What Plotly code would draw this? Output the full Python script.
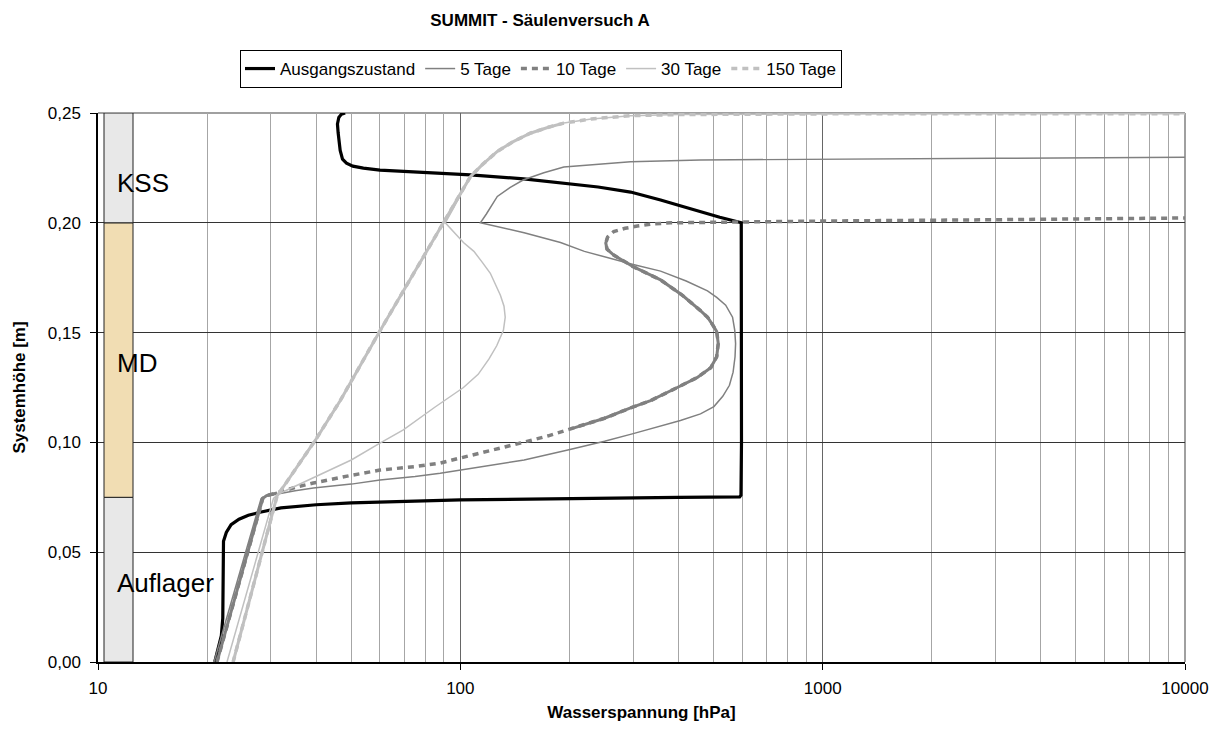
import plotly.graph_objects as go

# ---------------- data ----------------
series_names = ["Ausgangszustand", "5 Tage", "10 Tage", "30 Tage", "150 Tage"]

ausgang_x = [21.0, 21.5, 21.9, 22.1, 22.1, 22.2, 22.6, 23.3, 24.5, 26.0, 28.0, 32.0, 40, 50, 100,
             200, 400, 590, 595, 597, 597, 596, 520, 450, 400, 357, 320, 295, 240, 193, 149.6,
             106.6, 72.7, 60, 54, 50.5, 48.5, 47.3, 46.6, 46.2, 46.0, 45.8, 46.2, 47.0, 48.1]
ausgang_y = [0.0, 0.006, 0.012, 0.02, 0.05, 0.055, 0.059, 0.0625, 0.065, 0.0668, 0.0682, 0.0702,
             0.0716, 0.0725, 0.0738, 0.0745, 0.075, 0.0752, 0.076, 0.10, 0.15, 0.2, 0.2025,
             0.2057, 0.208, 0.2104, 0.2125, 0.214, 0.2163, 0.218, 0.220, 0.2218, 0.2232, 0.2240,
             0.2249, 0.2258, 0.2272, 0.229, 0.233, 0.237, 0.241, 0.245, 0.248, 0.2495, 0.25]

tage5_x = [20.9, 28.2, 29.0, 31.2, 35, 39.3, 50, 60, 75, 88, 100, 150, 198, 250, 300, 350, 405,
           460, 501, 530, 553, 566, 573, 575, 572, 564, 540, 510, 481, 420, 357, 300, 259, 220,
           189, 150, 113.6, 118, 126.5, 137, 149, 170, 193, 240, 295, 460, 1000, 3000, 10000]
tage5_y = [0.0, 0.0745, 0.0755, 0.0765, 0.078, 0.0792, 0.081, 0.0829, 0.0845, 0.086, 0.0874, 0.092,
           0.0965, 0.1005, 0.104, 0.107, 0.110, 0.113, 0.1163, 0.121, 0.126, 0.132, 0.139, 0.145,
           0.151, 0.157, 0.1625, 0.166, 0.169, 0.1735, 0.178, 0.181, 0.184, 0.187, 0.191, 0.1955,
           0.2, 0.204, 0.212, 0.216, 0.2195, 0.2228, 0.2254, 0.2268, 0.2278, 0.2286, 0.229,
           0.2294, 0.2298]

tage10_x = [21.3, 28.5, 29.2, 31.2, 35, 39.3, 50, 60, 75, 88, 100, 120, 146.5, 175, 205, 250, 295,
            335, 397, 450, 491, 510, 515, 510, 495, 481, 460, 410, 357, 300, 265, 254, 252, 255,
            265, 285, 308, 340, 380, 596, 1000, 3000, 10000]
tage10_y = [0.0, 0.0745, 0.0758, 0.077, 0.0795, 0.0815, 0.085, 0.0874, 0.089, 0.0906, 0.0929, 0.096,
            0.0997, 0.103, 0.1065, 0.111, 0.1157, 0.119, 0.125, 0.1295, 0.134, 0.139, 0.145,
            0.1505, 0.154, 0.157, 0.160, 0.167, 0.174, 0.180, 0.1853, 0.188, 0.1908, 0.1935,
            0.196, 0.1975, 0.1985, 0.1995, 0.2, 0.2005, 0.2008, 0.2014, 0.2022]

tage30_x = [22.7, 30.5, 31.5, 35, 39.3, 50, 60, 69.6, 85, 102, 112, 120, 126, 131.5, 133, 132, 129,
            125, 121, 115, 109, 102, 96, 90.9, 96, 106.6, 115, 126.5, 140, 156, 175, 193, 230, 295,
            400, 600, 1000, 10000]
tage30_y = [0.0, 0.0745, 0.0765, 0.08, 0.0838, 0.092, 0.0997, 0.1057, 0.116, 0.125, 0.131, 0.138,
            0.144, 0.151, 0.157, 0.162, 0.167, 0.172, 0.177, 0.182, 0.187, 0.191, 0.1955, 0.2,
            0.207, 0.221, 0.2265, 0.2325, 0.237, 0.2408, 0.2435, 0.2454, 0.2473, 0.2488, 0.2493,
            0.2495, 0.2496, 0.2497]

tage150_x = [23.6, 31.2, 33.5, 39.8, 46.6, 60.1, 75, 89.7, 106.6, 115, 126.5, 140, 156, 175, 193,
             230, 295, 400, 600, 1000, 10000]
tage150_y = [0.0, 0.0756, 0.083, 0.101, 0.119, 0.151, 0.178, 0.2, 0.221, 0.2265, 0.2325, 0.237,
             0.2408, 0.2435, 0.2454, 0.2473, 0.2488, 0.2493, 0.2495, 0.2496, 0.2497]

# soil layers of the column
layer_names = ["Auflager", "MD", "KSS"]
layer_bottom = [0.0, 0.075, 0.2]
layer_top = [0.075, 0.2, 0.25]
layer_label_y = [0.036, 0.136, 0.218]

x_major_ticks = [10, 100, 1000, 10000]
x_major_text = ["10", "100", "1000", "10000"]
x_minor_ticks = [m * d for d in (10, 100, 1000) for m in range(2, 10)]

# ---------------- styling ----------------
FONT = "Liberation Sans, Arial, sans-serif"
styles = [
    dict(color="#000000", width=3.2, dash="solid"),
    dict(color="#808080", width=1.5, dash="solid"),
    dict(color="#808080", width=3.5, dash="6px,5px"),
    dict(color="#c0c0c0", width=1.5, dash="solid"),
    dict(color="#c0c0c0", width=3.5, dash="6px,5px"),
]
# point-index ranges of dashed series where the (dense) original points render solid
solid_ranges = {2: [(0, 3), (14, 33)], 4: [(0, 14)]}
layer_colors = ["#e8e8e8", "#f1ddb3", "#e8e8e8"]

data_x = [ausgang_x, tage5_x, tage10_x, tage30_x, tage150_x]
data_y = [ausgang_y, tage5_y, tage10_y, tage30_y, tage150_y]

fig = go.Figure()
for i in range(len(series_names)):
    st = styles[i]
    fig.add_trace(go.Scatter(
        x=data_x[i], y=data_y[i], mode="lines", name=series_names[i], legendgroup=series_names[i],
        line=dict(color=st["color"], width=st["width"], dash=st["dash"]),
    ))
    for a, b in solid_ranges.get(i, []):
        fig.add_trace(go.Scatter(
            x=data_x[i][a:b + 1], y=data_y[i][a:b + 1], mode="lines", showlegend=False,
            legendgroup=series_names[i], hoverinfo="skip",
            line=dict(color=st["color"], width=st["width"] - 0.5, dash="solid"),
        ))

# plot area geometry (pixels)
W, H = 1220, 737
ml, mr, mt, mb = 98, 35, 113, 75
pw = W - ml - mr
ph = H - mt - mb

shapes = []
strip_x0 = (104 - ml) / pw
strip_x1 = (133 - ml) / pw
for b, t, c in zip(layer_bottom, layer_top, layer_colors):
    shapes.append(dict(type="rect", xref="paper", yref="y", x0=strip_x0, x1=strip_x1, y0=b, y1=t,
                       fillcolor=c, line=dict(color="#222222", width=1), layer="above"))
# top & right frame of plot area
shapes.append(dict(type="line", xref="paper", yref="paper", x0=0, x1=1, y0=1, y1=1,
                   line=dict(color="#808080", width=1.5), layer="below"))
shapes.append(dict(type="line", xref="paper", yref="paper", x0=1, x1=1, y0=0, y1=1,
                   line=dict(color="#808080", width=1.5), layer="below"))

annotations = []
for name, yy in zip(layer_names, layer_label_y):
    annotations.append(dict(text=name, xref="paper", yref="y", x=(115 - ml) / pw, y=yy,
                            xanchor="left", yanchor="middle", showarrow=False,
                            font=dict(family=FONT, size=26, color="#000000")))

fig.update_layout(
    width=W, height=H,
    margin=dict(l=ml, r=mr, t=mt, b=mb),
    paper_bgcolor="white", plot_bgcolor="white",
    separators=", ",
    font=dict(family=FONT, size=17, color="#000000"),
    title=dict(text="<b>SUMMIT - Säulenversuch A</b>", x=(540 - ml) / pw, xref="paper",
               xanchor="center", y=1 - 20 / H, yref="container", yanchor="middle",
               font=dict(family=FONT, size=17, color="#000000")),
    legend=dict(orientation="h", x=(541 - ml) / pw, xanchor="center", y=1 + (mt - 69) / ph,
                yanchor="middle", bordercolor="#000000", borderwidth=1, bgcolor="white",
                font=dict(family=FONT, size=17), itemwidth=30, tracegroupgap=0),
    showlegend=True,
    shapes=shapes,
    annotations=annotations,
    xaxis=dict(
        type="log", range=[1, 4], tickmode="array", tickvals=x_major_ticks, ticktext=x_major_text,
        showgrid=True, gridcolor="#666666", gridwidth=1,
        ticks="outside", ticklen=6, tickcolor="#000000", ticklabelstandoff=4,
        showline=True, linecolor="#000000", linewidth=1.5, zeroline=False,
        minor=dict(tickmode="array", tickvals=x_minor_ticks, showgrid=True, gridcolor="#a6a6a6",
                   gridwidth=1, ticklen=0),
        title=dict(text="<b>Wasserspannung [hPa]</b>", font=dict(family=FONT, size=17), standoff=9),
        tickfont=dict(family=FONT, size=17),
    ),
    yaxis=dict(
        range=[0, 0.25], dtick=0.05, tick0=0, tickformat=".2f",
        showgrid=True, gridcolor="#333333", gridwidth=1,
        ticks="outside", ticklen=6, tickcolor="#000000", ticklabelstandoff=6,
        showline=True, linecolor="#000000", linewidth=1.5, zeroline=False,
        title=dict(text="<b>Systemhöhe [m]</b>", font=dict(family=FONT, size=17), standoff=18),
        tickfont=dict(family=FONT, size=17),
    ),
)

fig.write_html("out.html", config={"displayModeBar": False},
               post_script="document.body.style.margin='0';document.body.style.overflow='hidden';")
